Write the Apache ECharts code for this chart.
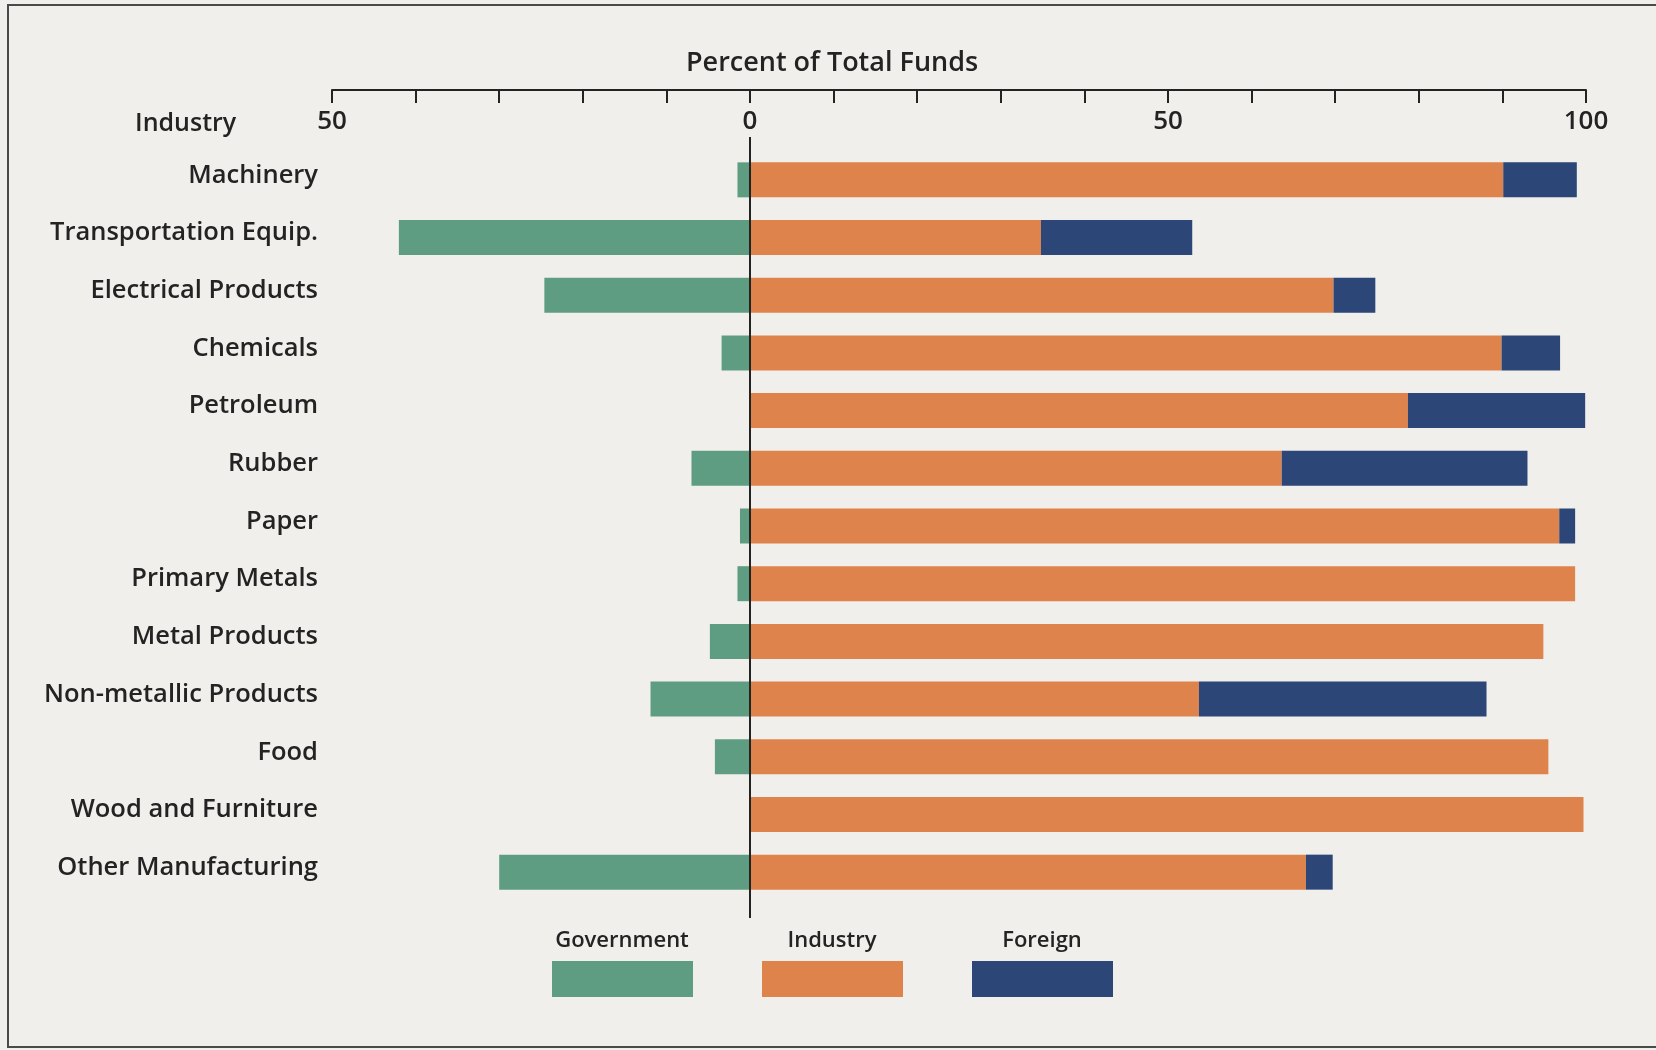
<!DOCTYPE html>
<html>
<head>
<meta charset="utf-8">
<script src="https://cdn.jsdelivr.net/npm/echarts@6/dist/echarts.min.js"></script>
<style>
    html, body { margin: 0; padding: 0; background: #f1efec; }
    #main { width: 1656px; height: 1050px; }
</style>
</head>
<body>
<div id="main"></div>
<script>
    // industries, top to bottom
    var industries = ['Machinery', 'Transportation Equip.', 'Electrical Products', 'Chemicals', 'Petroleum',
        'Rubber', 'Paper', 'Primary Metals', 'Metal Products', 'Non-metallic Products', 'Food',
        'Wood and Furniture', 'Other Manufacturing'];
    // percent of total funds by source
    var government = [1.5, 42.0, 24.6, 3.4, 0, 7.0, 1.2, 1.5, 4.8, 11.9, 4.2, 0, 30.0];
    var industry = [90.1, 34.8, 69.8, 89.9, 78.7, 63.6, 96.8, 98.7, 94.9, 53.7, 95.5, 99.7, 66.5];
    var foreign = [8.8, 18.1, 5.0, 7.0, 21.2, 29.4, 1.9, 0, 0, 34.4, 0, 0, 3.2];
    // labelled ticks on the top axis (government runs to the left)
    var labelledTicks = [-50, 0, 50, 100];

    var sourceNames = ['Government', 'Industry', 'Foreign'];
    var sourceColors = ['#5f9d82', '#df834d', '#2b4677'];
    var font = '"Open Sans", Lato, sans-serif';
    var ink = '#232323';

    var chart = echarts.init(document.getElementById('main'));

    // legend drawn as label above box
    var legendItems = [];
    sourceNames.forEach(function (name, i) {
        var left = 552 + i * 210;
        legendItems.push({
            type: 'rect',
            shape: {x: left, y: 961, width: 141, height: 36},
            style: {fill: sourceColors[i]}
        });
        legendItems.push({
            type: 'text',
            x: left + 70, y: 941,
            style: {
                text: name, fill: ink, font: '600 22px ' + font,
                align: 'center', verticalAlign: 'middle'
            }
        });
    });

    var option = {
        backgroundColor: '#f1efec',
        textStyle: {fontFamily: font},
        title: [
            {
                text: 'Percent of Total Funds',
                left: 686, top: 50, padding: 0,
                textStyle: {fontSize: 27, fontWeight: 600, color: ink, fontFamily: font}
            },
            {
                text: 'Industry',
                left: 135, top: 111, padding: 0,
                textStyle: {fontSize: 25, fontWeight: 600, color: ink, fontFamily: font}
            }
        ],
        grid: {
            left: 332,
            right: 70,
            top: 151,
            bottom: 149
        },
        xAxis: {
            type: 'value',
            position: 'top',
            offset: 61,
            min: -50,
            max: 100,
            interval: 10,
            axisLine: {show: true, lineStyle: {color: ink, width: 2}},
            axisTick: {show: true, inside: true, length: 13, lineStyle: {color: ink, width: 2}},
            axisLabel: {
                inside: true,
                margin: 19,
                fontSize: 26,
                fontWeight: 600,
                color: ink,
                formatter: function (v) {
                    return labelledTicks.indexOf(v) >= 0 ? String(Math.abs(v)) : '';
                }
            },
            splitLine: {show: false}
        },
        yAxis: {
            type: 'category',
            inverse: true,
            data: industries,
            axisLine: {show: false},
            axisTick: {show: false},
            // names sit a little above the middle of their bars
            axisLabel: {
                margin: 14, fontSize: 25.5, fontWeight: 600, color: ink,
                verticalAlign: 'bottom', lineHeight: 9
            }
        },
        series: [
            {
                name: sourceNames[0],
                type: 'bar',
                stack: 'funds',
                barWidth: 35,
                itemStyle: {color: sourceColors[0]},
                data: government.map(function (v) { return -v; })
            },
            {
                name: sourceNames[1],
                type: 'bar',
                stack: 'funds',
                barWidth: 35,
                itemStyle: {color: sourceColors[1]},
                data: industry,
                // vertical zero line, runs from under the "0" label past the last bar
                markLine: {
                    silent: true,
                    symbol: 'none',
                    label: {show: false},
                    lineStyle: {color: ink, width: 2, type: 'solid'},
                    data: [[{coord: [0, 0], y: 137}, {coord: [0, 0], y: 918}]]
                }
            },
            {
                name: sourceNames[2],
                type: 'bar',
                stack: 'funds',
                barWidth: 35,
                itemStyle: {color: sourceColors[2]},
                data: foreign
            }
        ],
        graphic: [
            {
                type: 'rect',
                shape: {x: 8, y: 5, width: 1670, height: 1042},
                style: {fill: null, stroke: '#4a4a4a', lineWidth: 2}
            }
        ].concat(legendItems)
    };
    chart.setOption(option);
</script>
</body>
</html>
